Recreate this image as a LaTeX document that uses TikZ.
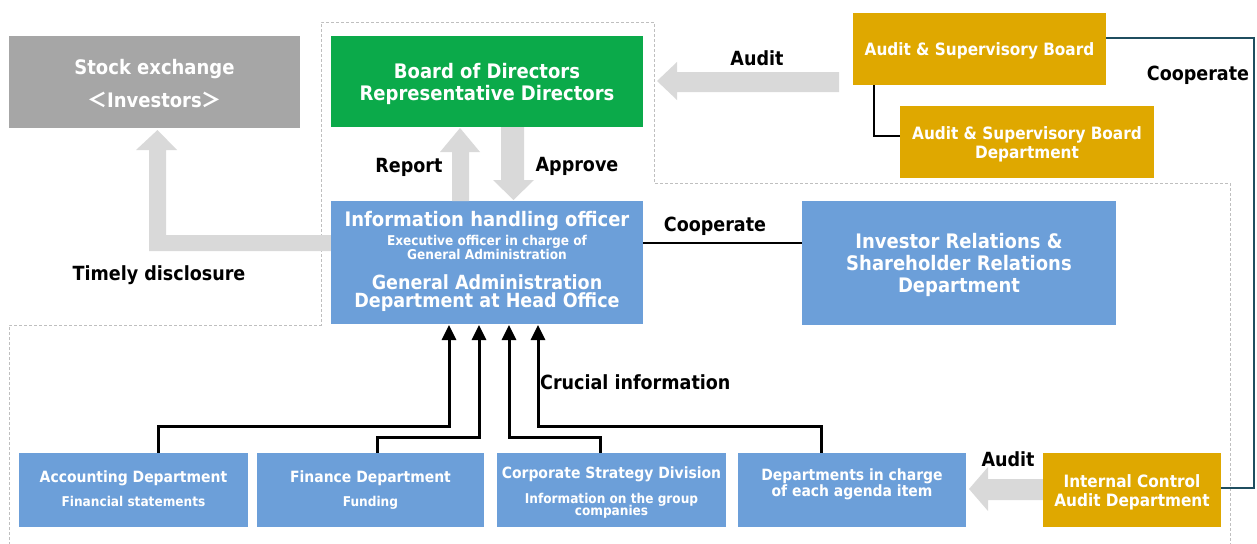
\documentclass[tikz,border=0pt]{standalone}
\usepackage{fontspec}
\setmainfont{DejaVu Sans Condensed}
\newfontfamily\cjk{Noto Sans CJK JP}
\usetikzlibrary{arrows.meta,calc}
\definecolor{deptblue}{HTML}{6C9FD9}
\definecolor{boardgreen}{HTML}{0BAA4A}
\definecolor{auditgold}{HTML}{DFA800}
\definecolor{exgray}{HTML}{A6A6A6}
\definecolor{flowgray}{HTML}{D9D9D9}
\definecolor{coopteal}{HTML}{1F4E5F}
\definecolor{zonegray}{HTML}{BFBFBF}
\tikzset{
  box/.style={rectangle, inner sep=0pt},
  bigtext/.style={font=\bfseries\fontsize{20}{22}\selectfont},
  midtext/.style={font=\bfseries\fontsize{17}{19}\selectfont},
  lowtext/.style={font=\bfseries\fontsize{15.5}{16}\selectfont},
  subtext/.style={font=\bfseries\fontsize{13.5}{12}\selectfont},
  txt/.style={inner sep=0pt, text=white, align=center, text height=0.72em, text depth=0pt, yshift=-3pt},
  mtxt/.style={inner sep=0pt, text=white, align=center, yshift=-2pt},
  lbl/.style={inner sep=0pt, font=\fontsize{19.5}{21}\selectfont\bfseries, text=black},
  feed/.style={line width=3pt, -{Triangle[width=14pt,length=15pt]}},
  link/.style={line width=2.5pt},
  flow/.style={fill=flowgray, draw=none},
  zone/.style={draw=zonegray, line width=0.9pt, dash pattern=on 3pt off 2pt}
}
\begin{document}
\begin{tikzpicture}[x=1pt,y=-1pt]
\useasboundingbox (0,0) rectangle (1257,543);

% dashed zone outline
\draw[zone] (9,545) -- (9,325) -- (321,325) -- (321,22) -- (654,22) -- (654,183) -- (1230,183) -- (1230,545);

% boxes
\node[box, fill=exgray, minimum width=291pt, minimum height=92pt] (se) at (154.5,82) {};
\node[box, fill=boardgreen, minimum width=312pt, minimum height=91pt] (bod) at (487,81.5) {};
\node[box, fill=auditgold, minimum width=253pt, minimum height=72pt] (asb) at (979.5,49) {};
\node[box, fill=auditgold, minimum width=254pt, minimum height=72pt] (asbd) at (1027,142) {};
\node[box, fill=deptblue, minimum width=312pt, minimum height=123pt] (iho) at (487,262.5) {};
\node[box, fill=deptblue, minimum width=314pt, minimum height=124pt] (ir) at (959,263) {};
\node[box, fill=deptblue, minimum width=229pt, minimum height=74pt] (acc) at (133.5,490) {};
\node[box, fill=deptblue, minimum width=227pt, minimum height=74pt] (fin) at (370.5,490) {};
\node[box, fill=deptblue, minimum width=229pt, minimum height=74pt] (cor) at (611.5,490) {};
\node[box, fill=deptblue, minimum width=228pt, minimum height=74pt] (dep) at (852,490) {};
\node[box, fill=auditgold, minimum width=178pt, minimum height=74pt] (ica) at (1132,490) {};

% box texts
\node[mtxt, bigtext] (se1) at (se.center) {Stock exchange\\[11pt]{\cjk ＜}Investors{\cjk ＞}};
\node[mtxt, bigtext] (bod1) at (bod.center) {Board of Directors\\Representative Directors};
\node[mtxt, midtext] (asb1) at (asb.center) {Audit \& Supervisory Board};
\node[mtxt, midtext] (asbd1) at (asbd.center) {Audit \& Supervisory Board\\Department};
\node[mtxt, bigtext] (ir1) at (ir.center) {Investor Relations \&\\Shareholder Relations\\Department};
\node[mtxt, midtext] (ica1) at (ica.center) {Internal Control\\Audit Department};
\node[txt, bigtext] (iho1) at (487,220) {Information handling officer};
\node[txt, subtext] (iho2) at (487,239) {Executive officer in charge of};
\node[txt, subtext] (iho3) at (487,253) {General Administration};
\node[mtxt, font=\bfseries\fontsize{19.5}{17.5}\selectfont] (iho4) at (487,291) {General Administration\\Department at Head Office};
\node[txt, lowtext] (acc1) at (133.5,476) {Accounting Department};
\node[txt, subtext] (acc2) at (133.5,500) {Financial statements};
\node[txt, lowtext] (fin1) at (370.5,476) {Finance Department};
\node[txt, subtext] (fin2) at (370.5,500) {Funding};
\node[txt, lowtext] (cor1) at (611.5,472) {Corporate Strategy Division};
\node[txt, subtext] (cor2) at (611.5,497) {Information on the group};
\node[txt, subtext] (cor3) at (611.5,509) {companies};
\node[mtxt, lowtext] (dep1) at (852,482) {Departments in charge\\of each agenda item};

% wide grey flow arrows
\fill[flow] ([yshift=27.5pt]iho.west) -- (166,235) -- (166,150) -- (177,150) -- (157.5,130)
  -- (136,150) -- (149,150) -- (149,251) -- ([yshift=11.5pt]iho.west) -- cycle;
\fill[flow] (452,201) -- (452,152) -- (440,152) -- (460,128) -- (480,152) -- (469,152) -- (469,201) -- cycle;
\fill[flow] (501,127) -- (501,180) -- (493,180) -- (513.5,200) -- (534,180) -- (524,180) -- (524,127) -- cycle;
\fill[flow] (839,72) -- (677,72) -- (677,62) -- (657,81) -- (677,100) -- (677,92) -- (839,92) -- cycle;
\fill[flow] (ica.west |- 0,479) -- (988,479) -- (988,467) -- (969,489) -- (988,511) -- (988,500) -- (ica.west |- 0,500) -- cycle;

% crucial information feeds
\draw[feed] ([xshift=24.5pt]acc.north) |- (449,426) -- (449,325);
\draw[feed] ([xshift=6.5pt]fin.north) |- (479,437) -- (479,325);
\draw[feed] ([xshift=-11.5pt]cor.north) |- (509,437) -- (509,325);
\draw[feed] ([xshift=-31pt]dep.north) |- (538,426) -- (538,325);

% plain links
\draw[link] ([xshift=-105.5pt]asb.south) |- ([yshift=6pt]asbd.west);
\draw[link] ([yshift=19.5pt]iho.east) -- ([yshift=19.5pt]iho.east -| ir.west);
\draw[coopteal, line width=2pt] ([yshift=11pt]asb.east) -| (1254,488) -- ([yshift=2pt]ica.east);

% labels
\node[lbl] (l1) at (757,58) {Audit};
\node[lbl] (l2) at (1198,75) {Cooperate};
\node[lbl] (l3) at (409,167) {Report};
\node[lbl] (l4) at (577,166) {Approve};
\node[lbl] (l5) at (715,226) {Cooperate};
\node[lbl] (l6) at (159,275) {Timely disclosure};
\node[lbl, anchor=west] (l7) at (540,382) {Crucial information};
\node[lbl] (l8) at (1008,459) {Audit};
\end{tikzpicture}
\end{document}
